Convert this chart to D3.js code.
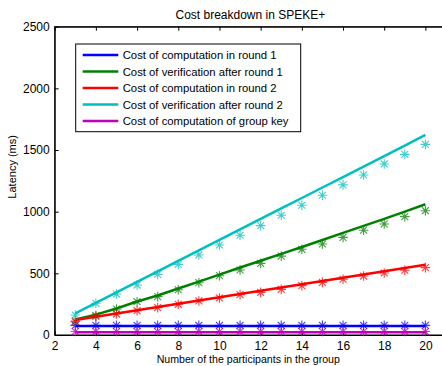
<!DOCTYPE html>
<html>
<head>
<meta charset="utf-8">
<script src="https://cdn.jsdelivr.net/npm/d3@7"></script>
<style>
  body { margin: 0; background: white; overflow: hidden; }
  svg { font-family: "Liberation Sans", Arial, Helvetica, sans-serif; }
</style>
</head>
<body>
<div id="chart"></div>
<script>
// Number of participants
const participants = [3, 4, 5, 6, 7, 8, 9, 10, 11, 12, 13, 14, 15, 16, 17, 18, 19, 20];

// Series names (legend order)
const seriesNames = [
  "Cost of computation in round 1",
  "Cost of verification after round 1",
  "Cost of computation in round 2",
  "Cost of verification after round 2",
  "Cost of computation of group key"
];
const seriesColors = ["#0000ff", "#008000", "#ff0000", "#00bfbf", "#bf00bf"];

// Line (model) values, ms
const round1Line = [73, 73, 73, 73, 73, 73, 73, 73, 73, 73, 73, 73, 73, 73, 73, 73, 73, 73];
const verif1Line = [125, 165, 215, 272, 320, 377, 433, 490, 547, 602, 658, 714, 770, 828, 885, 942, 1000, 1060];
const round2Line = [122, 148, 175, 201, 227, 254, 280, 306, 333, 359, 385, 412, 438, 465, 491, 517, 543, 570];
const verif2Line = [176, 261, 346, 431, 516, 601, 686, 771, 856, 941, 1026, 1111, 1196, 1281, 1366, 1451, 1536, 1622];
const groupKeyLine = [22, 22, 22, 22, 22, 22, 22, 22, 22, 22, 22, 22, 22, 22, 22, 22, 22, 22];

// Measured values (asterisks), ms
const round1Pts = [78, 78, 78, 78, 78, 78, 78, 78, 78, 78, 78, 78, 78, 78, 78, 78, 78, 78];
const verif1Pts = [108, 157, 211, 270, 311, 367, 424, 481, 527, 581, 640, 695, 738, 792, 850, 900, 960, 1008];
const round2Pts = [113, 152, 170, 197, 222, 249, 276, 300, 327, 346, 370, 400, 427, 452, 478, 503, 525, 546];
const verif2Pts = [162, 257, 332, 405, 492, 573, 649, 730, 809, 887, 971, 1052, 1133, 1217, 1298, 1387, 1465, 1546];
const groupKeyPts = [28, 28, 28, 28, 28, 28, 28, 28, 28, 28, 28, 28, 28, 28, 28, 28, 28, 28];

const xTicks = [2, 4, 6, 8, 10, 12, 14, 16, 18, 20];
const yTicks = [0, 500, 1000, 1500, 2000, 2500];

const lines = [round1Line, verif1Line, round2Line, verif2Line, groupKeyLine];
const points = [round1Pts, verif1Pts, round2Pts, verif2Pts, groupKeyPts];

const W = 442, H = 366;
const margin = {top: 26.7, left: 54.7, bottom: 31, right: -4};
const width = W - margin.left - margin.right;
const height = H - margin.top - margin.bottom;

const svg = d3.select("#chart").append("svg")
    .attr("width", W)
    .attr("height", H);

const g = svg.append("g")
    .attr("transform", `translate(${margin.left},${margin.top})`);

const x = d3.scaleLinear().domain([2, 21]).range([0, width]);
const y = d3.scaleLinear().domain([0, 2500]).range([height, 0]);

// Frame
g.append("rect")
    .attr("width", width).attr("height", height)
    .attr("fill", "none").attr("stroke", "black").attr("stroke-width", 1);

// Axes with inward ticks (MATLAB style)
const xAxis = g.append("g")
    .attr("transform", `translate(0,${height})`)
    .call(d3.axisBottom(x).tickValues(xTicks).tickSizeInner(-4).tickSizeOuter(0).tickPadding(6));
const xAxisTop = g.append("g")
    .call(d3.axisTop(x).tickValues(xTicks).tickSizeInner(-4).tickSizeOuter(0).tickFormat(""));
const yAxis = g.append("g")
    .call(d3.axisLeft(y).tickValues(yTicks).tickFormat(d3.format("d"))
      .tickSizeInner(-4).tickSizeOuter(0).tickPadding(5));
const yAxisRight = g.append("g")
    .attr("transform", `translate(${width},0)`)
    .call(d3.axisRight(y).tickValues(yTicks).tickSizeInner(-4).tickSizeOuter(0).tickFormat(""));

[xAxis, xAxisTop, yAxis, yAxisRight].forEach(a => {
  a.select(".domain").attr("stroke", "black");
  a.selectAll("line").attr("stroke", "black");
  a.selectAll("text").attr("font-size", 12).attr("fill", "black")
    .attr("font-family", "Liberation Sans, Arial, sans-serif");
});

// Lines
const line = d3.line()
    .x((d, i) => x(participants[i]))
    .y(d => y(d));

lines.forEach((vals, k) => {
  g.append("path")
      .datum(vals)
      .attr("fill", "none")
      .attr("stroke", seriesColors[k])
      .attr("stroke-width", 2.5)
      .attr("d", line);
});

// Asterisk markers
const r = 4.8, rd = r * 0.72;
points.forEach((vals, k) => {
  const mk = g.append("g").attr("stroke", seriesColors[k]).attr("stroke-width", 1.1).attr("opacity", 0.75);
  vals.forEach((v, i) => {
    const cx = x(participants[i]), cy = y(v);
    mk.append("path")
        .attr("d", `M${cx - r},${cy}H${cx + r}M${cx},${cy - r}V${cy + r}` +
                   `M${cx - rd},${cy - rd}L${cx + rd},${cy + rd}M${cx - rd},${cy + rd}L${cx + rd},${cy - rd}`);
  });
});

// Legend
const lg = svg.append("g").attr("transform", "translate(75.7,44)");
lg.append("rect")
    .attr("width", 225).attr("height", 87.7)
    .attr("fill", "white").attr("stroke", "black").attr("stroke-width", 1);
seriesNames.forEach((name, k) => {
  const ly = 11 + k * 16.5;
  lg.append("line")
      .attr("x1", 7).attr("x2", 42.6).attr("y1", ly).attr("y2", ly)
      .attr("stroke", seriesColors[k]).attr("stroke-width", 2.5);
  lg.append("text")
      .attr("x", 47).attr("y", ly + 4)
      .attr("font-size", 11.3)
      .text(name);
});

// Title and axis labels
svg.append("text")
    .attr("x", margin.left + x(11.5)).attr("y", 18.5)
    .attr("text-anchor", "middle").attr("font-size", 12)
    .text("Cost breakdown in SPEKE+");

svg.append("text")
    .attr("x", margin.left + x(11.4)).attr("y", 363)
    .attr("text-anchor", "middle").attr("font-size", 10.6)
    .text("Number of the participants in the group");

svg.append("text")
    .attr("transform", `translate(15.5,${margin.top + height / 2 - 14}) rotate(-90)`)
    .attr("text-anchor", "middle").attr("font-size", 11)
    .text("Latency (ms)");
</script>
</body>
</html>
